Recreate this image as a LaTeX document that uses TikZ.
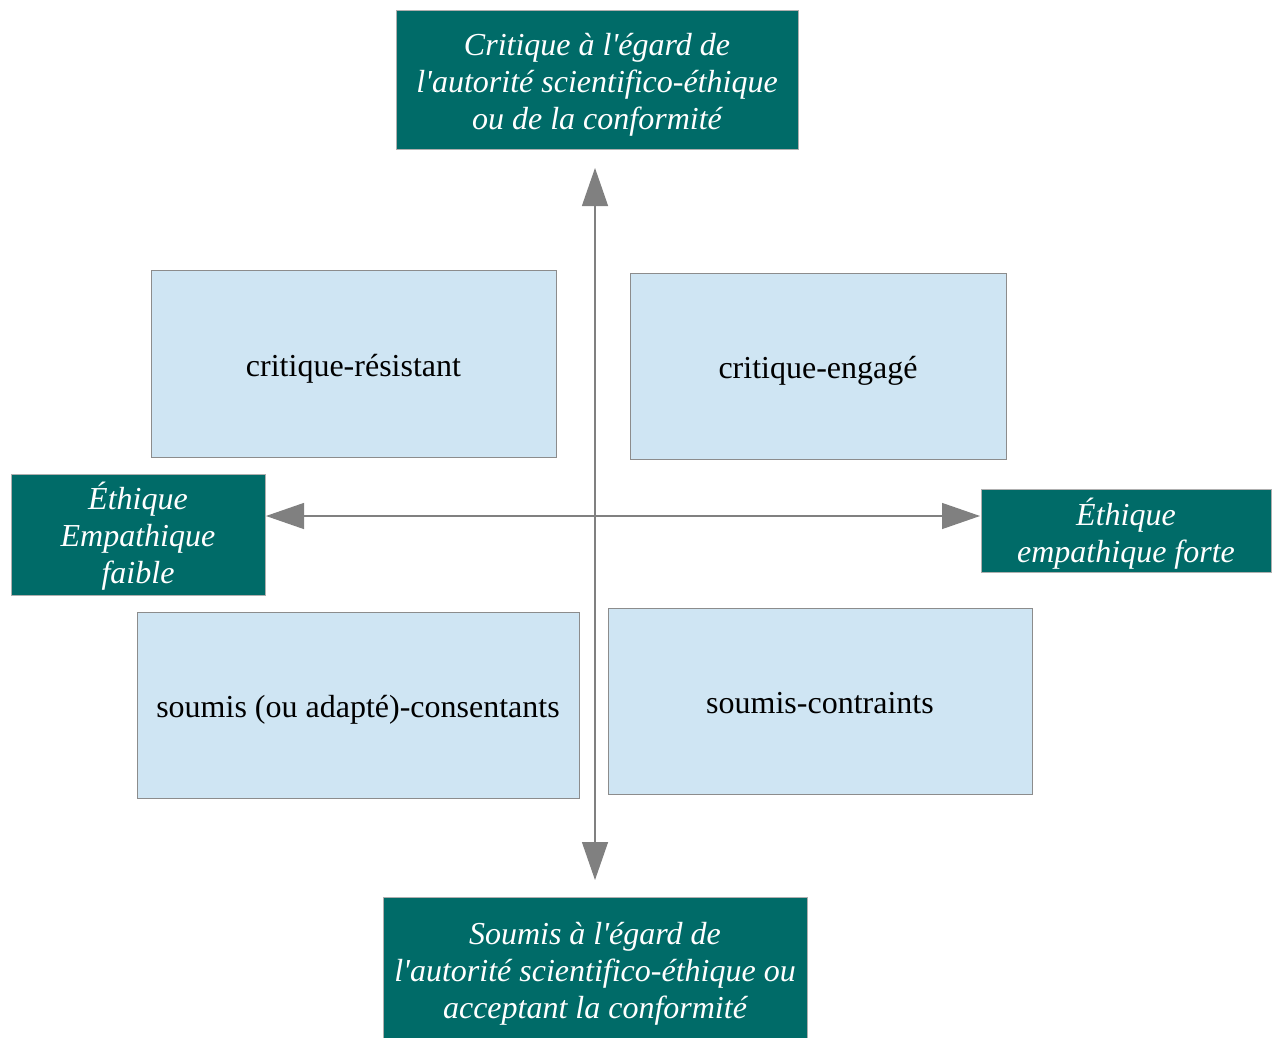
\documentclass[tikz,border=0pt]{standalone}
\usepackage{fontspec}
\setmainfont{Liberation Serif}
\usetikzlibrary{arrows.meta}
\definecolor{teal1}{HTML}{006B68}
\definecolor{lblue}{HTML}{CFE5F3}
\definecolor{bgrey}{HTML}{8C8C8C}
\definecolor{agrey}{HTML}{808080}
\newcommand{\apos}{\textquotesingle}
\tikzset{
  tealbox/.style={draw=bgrey!70, line width=1pt, fill=teal1, inner sep=0pt},
  quadbox/.style={draw=bgrey, line width=1pt, fill=lblue, inner sep=0pt},
  tealtext/.style={text=white, align=center, font=\fontsize{32}{37}\selectfont\itshape},
  quadtext/.style={text=black, align=center, font=\fontsize{32}{37}\selectfont},
  axis/.style={draw=agrey, line width=1.3pt, {Triangle[length=38pt,width=26pt]}-{Triangle[length=38pt,width=26pt]}}
}
\begin{document}
\begin{tikzpicture}[x=1pt,y=-1pt]
\useasboundingbox (0,0) rectangle (1274,1038);
\fill[white] (0,0) rectangle (1274,1038);
% axis end coordinates
\coordinate (vt) at (595,168);
\coordinate (vb) at (595,880);
\coordinate (hl) at (266,516);
\coordinate (hr) at (980,516);
% quadrant boxes
\node[quadbox, minimum width=405, minimum height=187] (cr) at (353.5,363.5) {};
\node[quadtext] at ([yshift=-5]cr.center) (crt) {critique-résistant};
\node[quadbox, minimum width=376, minimum height=186] (ce) at (818,366) {};
\node[quadtext] at ([yshift=-5]ce.center) (cet) {critique-engagé};
\node[quadbox, minimum width=442, minimum height=186] (sc) at (358,705) {};
\node[quadtext] at ([yshift=-5]sc.center) (sct) {soumis (ou adapté)-consentants};
\node[quadbox, minimum width=424, minimum height=186] (st) at (820,701) {};
\node[quadtext] at ([yshift=-2]st.center) (stt) {soumis-contraints};
% axes
\draw[axis] (vt) -- (vb);
\draw[axis] (hl) -- (hr);
% pole boxes
\node[tealbox, minimum width=402, minimum height=139] (top) at (597,80.5) {};
\node[tealtext] at ([yshift=-4]top.center) (topt) {Critique à l\apos égard de\\l\apos autorité scientifico-éthique\\ou de la conformité};
\node[tealbox, minimum width=424, minimum height=144] (bot) at (595,969) {};
\node[tealtext] at ([yshift=-5]bot.center) (bott) {Soumis à l\apos égard de\\l\apos autorité scientifico-éthique ou\\acceptant la conformité};
\node[tealbox, minimum width=254, minimum height=121] (lft) at (138,534.5) {};
\node[tealtext] at ([yshift=-2]lft.center) (lftt) {Éthique\\Empathique\\faible};
\node[tealbox, minimum width=290, minimum height=83] (rgt) at (1126,530.5) {};
\node[tealtext] at ([yshift=-3]rgt.center) (rgtt) {Éthique\\empathique forte};
\end{tikzpicture}
\end{document}
